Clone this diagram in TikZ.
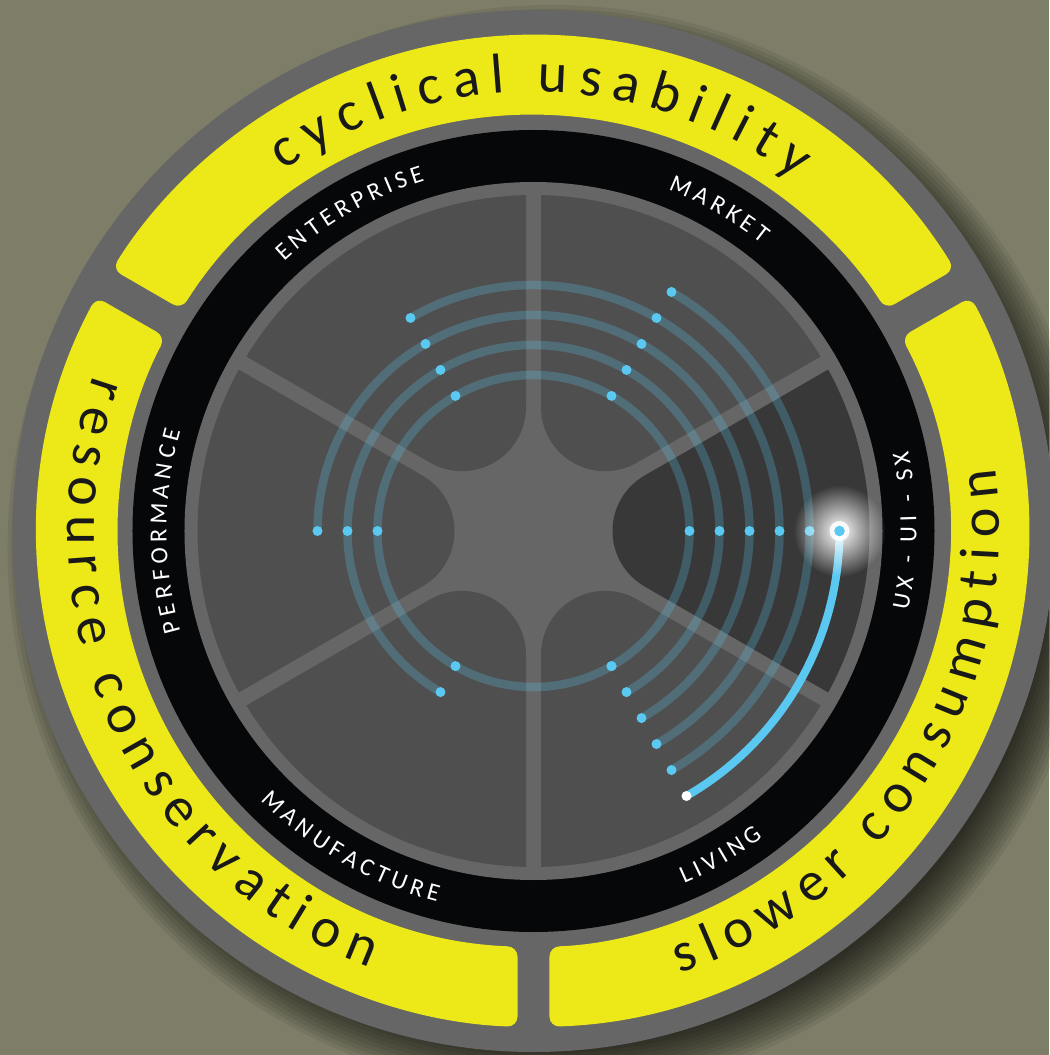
\documentclass[tikz,border=0pt]{standalone}
\usepackage{fontspec}
\setmainfont{Carlito}
\newfontfamily\ringfont[WordSpace=0.85]{Carlito}
\usetikzlibrary{decorations.text,fadings}

\definecolor{backolive}{HTML}{7E7E68}
\definecolor{rimgray}{HTML}{666666}
\definecolor{bandyellow}{HTML}{EDE918}
\definecolor{ringblack}{HTML}{060709}
\definecolor{sectorgray}{HTML}{4F4F4F}
\definecolor{sectordark}{HTML}{383838}
\definecolor{pulseblue}{HTML}{5AC8F0}

\tikzfading[name=glowfade, inner color=transparent!0, outer color=transparent!100]

\tikzset{
  trackline/.style={pulseblue, opacity=0.25, line width=1.7mm, line cap=round},
  liveline/.style={pulseblue, line width=1.6mm, line cap=round},
  trackdot/.style={fill=pulseblue},
  band/.style={fill=bandyellow, rounded corners=2mm},
  bigtext/.style={decorate, decoration={text along path, text align=center,
      text={|\color{black!90}\ringfont\fontsize{32}{38}\selectfont|#1}}},
  smalltext/.style={decorate, decoration={text along path, text align=center,
      text={|\color{white}\ringfont\fontsize{14}{17}\selectfont|#1}}},
}

\begin{document}
\begin{tikzpicture}[x=0.2mm, y=0.2mm]
  \fill[backolive] (-533.5,-524) rectangle (515.5,531);
  \useasboundingbox (-533.5,-524) rectangle (515.5,531);

  % soft shadow, rim and yellow bands
  \foreach \s in {0,4,...,44}
    \fill[black, opacity=0.075] (18,-18) circle (500+\s);
  \fill[rimgray] (0,0) circle (521);
  \foreach \a in {30,150,270}
    \fill[band] ({\a+1.85}:496) arc[start angle=\a+1.85, end angle=\a+118.15, radius=496]
      -- ({\a+117.8}:416) arc[start angle=\a+117.8, end angle=\a+2.2, radius=416] -- cycle;

  % black ring, spokes and sectors
  \fill[ringblack] (0,0) circle (401);
  \fill[rimgray] (0,0) circle (349);
  \foreach \a/\c in {0/sectordark,60/sectorgray,120/sectorgray,180/sectorgray,240/sectorgray,300/sectorgray}
    \fill[\c] ([shift={({\a+120}:64)}]\a:143) arc[start angle=\a+120, end angle=\a+240, radius=64]
      -- ({\a-28.72}:336) arc[start angle=\a-28.72, end angle=\a+28.72, radius=336] -- cycle;

  % tracks
  \foreach \k in {0,...,4}{
    \pgfmathsetmacro\r{156+30*\k}
    \pgfmathsetmacro\e{660-60*\k}
    \draw[trackline] (300:\r) arc[start angle=300, end angle=\e, radius=\r];
  }
  \draw[liveline] (300:306) arc[start angle=300, end angle=360, radius=306];
  \foreach \k in {0,...,4}{
    \pgfmathtruncatemacro\n{6-\k}
    \foreach \j in {0,...,\n}
      \fill[trackdot] ({300+60*\j}:{156+30*\k}) circle (5);
  }
  \fill[white, path fading=glowfade] (0:306) circle (46);
  \fill[white, opacity=0.85] (0:306) circle (10);
  \fill[white] (300:306) circle (5);
  \fill[trackdot] (0:306) circle (5.3);

  % labels
  \path[bigtext={c y c l i c a l \ \ u s a b i l i t y}] (159:439) arc[start angle=159, end angle=19, radius=439];
  \path[bigtext={r e s o u r c e \ \ c o n s e r v a t i o n}] (135:466) arc[start angle=135, end angle=275, radius=466];
  \path[bigtext={s l o w e r \ \ c o n s u m p t i o n}] (258:466) arc[start angle=258, end angle=398, radius=466];
  \path[smalltext={E N T E R P R I S E}] (160:367) arc[start angle=160, end angle=80, radius=367];
  \path[smalltext={M A R K E T}] (100:367) arc[start angle=100, end angle=20, radius=367];
  \path[smalltext={P E R F O R M A N C E}] (220:367) arc[start angle=220, end angle=140, radius=367];
  \path[smalltext={U X \ \ - \ \ U I \ \ - \ \ S X}] (-40:383) arc[start angle=-40, end angle=40, radius=383];
  \path[smalltext={L I V I N G}] (260:383) arc[start angle=260, end angle=340, radius=383];
  \path[smalltext={M A N U F A C T U R E}] (200:383) arc[start angle=200, end angle=280, radius=383];
\end{tikzpicture}
\end{document}
